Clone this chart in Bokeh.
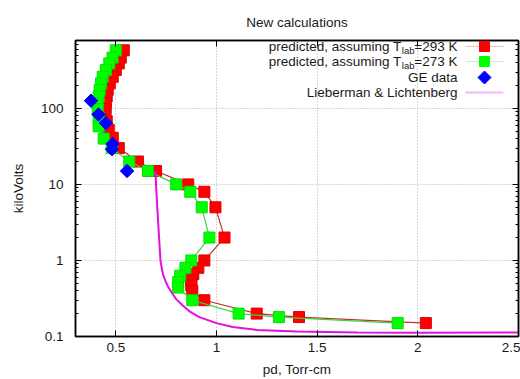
from bokeh.plotting import figure
from bokeh.models import (Range1d, FixedTicker, Label, PolyAnnotation, LinearAxis, LogAxis)
from bokeh.embed import file_html
from bokeh.resources import INLINE

# ---------------- data ----------------
red_pd = [0.54, 0.525, 0.515, 0.50, 0.485, 0.47, 0.46, 0.455, 0.45, 0.45, 0.455, 0.465,
          0.485, 0.515, 0.61, 0.70, 0.86, 0.94, 0.995, 1.04, 0.94, 0.91, 0.885, 0.875,
          0.875, 0.88, 0.94, 1.20, 1.41, 2.04]
red_kv = [580, 465, 390, 320, 260, 213, 175, 143, 117, 98, 68, 52,
          41, 30, 20, 15, 10, 8, 5, 2, 1, 0.8, 0.66, 0.55,
          0.47, 0.4, 0.3, 0.2, 0.18, 0.15]

green_pd = [0.50, 0.484, 0.468, 0.451, 0.435, 0.427, 0.42, 0.415, 0.41, 0.41, 0.415, 0.415,
            0.44, 0.48, 0.567, 0.66, 0.80, 0.87, 0.927, 0.965, 0.875, 0.846, 0.82, 0.81,
            0.81, 0.88, 1.11, 1.31, 1.90]
green_kv = [580, 465, 390, 320, 260, 213, 175, 143, 117, 98, 75, 58,
            40, 30, 20, 15, 10, 8, 5, 2, 1, 0.8, 0.63, 0.52,
            0.44, 0.3, 0.2, 0.18, 0.15]

ge_pd = [0.377, 0.414, 0.451, 0.484, 0.481, 0.556]
ge_kv = [126, 83, 64, 34, 29, 15]

ll_pd = [0.697, 0.700, 0.706, 0.715, 0.722, 0.728, 0.735, 0.745, 0.76, 0.78, 0.80, 0.83,
         0.87, 0.915, 1.0, 1.08, 1.2, 1.4, 1.7, 2.0, 2.5]
ll_kv = [15, 10, 5, 2, 1, 0.8, 0.65, 0.55, 0.45, 0.37, 0.31, 0.26,
         0.21, 0.18, 0.15, 0.133, 0.122, 0.116, 0.113, 0.112, 0.113]

x_ticks = [0.5, 1, 1.5, 2, 2.5]
x_tick_labels = ["0.5", "1", "1.5", "2", "2.5"]
y_ticks = [0.1, 1, 10, 100]
y_tick_labels = ["0.1", "1", "10", "100"]

title_text = "New calculations"
x_label = "pd, Torr-cm"
y_label = "kiloVolts"

FONT = "Liberation Sans"
FS = "13.5px"
TXT = "#1a1a1a"

p = figure(width=520, height=379, y_axis_type="log",
           x_range=Range1d(0.3, 2.5), y_range=Range1d(0.1, 780),
           output_backend="svg", toolbar_location=None,
           min_border_left=75, min_border_right=2, min_border_top=40, min_border_bottom=42,
           title=title_text)
p.background_fill_color = "white"
p.border_fill_color = "white"
p.outline_line_color = "black"
p.outline_line_width = 1.5

p.title.align = "center"
p.title.text_font = FONT
p.title.text_font_size = FS
p.title.text_font_style = "normal"
p.title.text_color = TXT
p.title.standoff = 21

minor_y = [k * 10.0 ** e for e in range(-1, 3) for k in range(2, 10)]
xt = FixedTicker(ticks=x_ticks, minor_ticks=[])
yt = FixedTicker(ticks=y_ticks, minor_ticks=minor_y)

xo = {float(t): s for t, s in zip(x_ticks, x_tick_labels)}
yo = {float(t): s for t, s in zip(y_ticks, y_tick_labels)}

xa = p.xaxis[0]
ya = p.yaxis[0]
xa.ticker = xt
ya.ticker = yt
xa.major_label_overrides = xo
ya.major_label_overrides = yo
xa.axis_label = x_label
ya.axis_label = y_label
xa.major_label_standoff = 6
xa.axis_label_standoff = 7
ya.major_label_standoff = 12
ya.axis_label_standoff = 12

# mirrored tick marks (no labels) on top and right
top_ax = LinearAxis(ticker=xt, major_label_overrides={float(t): "" for t in x_ticks},
                    major_label_text_color=None, major_label_standoff=0)
right_ax = LogAxis(ticker=yt, major_label_overrides={float(t): "" for t in y_ticks},
                   major_label_text_color=None, major_label_standoff=0)
p.add_layout(top_ax, "above")
p.add_layout(right_ax, "right")

for ax in [xa, ya, top_ax, right_ax]:
    ax.major_tick_in = 6
    ax.major_tick_out = 0
    ax.minor_tick_in = 3
    ax.minor_tick_out = 0
    ax.axis_line_color = "black"
    ax.axis_line_width = 1.5
    ax.major_tick_line_color = "black"
    ax.minor_tick_line_color = "black"
    ax.major_label_text_font = FONT
    ax.major_label_text_font_size = FS
    ax.axis_label_text_font = FONT
    ax.axis_label_text_font_style = "normal"
    ax.axis_label_text_font_size = FS
    ax.axis_label_text_color = TXT
for ax in [xa, ya]:
    ax.major_label_text_color = TXT

p.xgrid.ticker = xt
p.ygrid.ticker = yt
for g in [p.xgrid[0], p.ygrid[0]]:
    g.grid_line_color = "#b0b0b0"
    g.grid_line_dash = "1 2"
    g.grid_line_width = 1

RED_L, RED_M = "#c03030", "#ff0000"
GRN_L, GRN_M = "#40d040", "#00ff00"
BLUE = "#0000ff"
MAG = "#e010e0"

p.line(red_pd, red_kv, line_color=RED_L, line_width=1.2)
p.scatter(red_pd, red_kv, marker="square", size=11, fill_color=RED_M, line_color="#e00000")
p.line(green_pd, green_kv, line_color=GRN_L, line_width=1.2)
p.scatter(green_pd, green_kv, marker="square", size=11, fill_color=GRN_M, line_color="#00e000")
p.scatter(ge_pd, ge_kv, marker="square", angle=0.7854, size=9.5, fill_color=BLUE, line_color=BLUE)
p.line(ll_pd, ll_kv, line_color=MAG, line_width=2)

# ---------------- legend (gnuplot style: text right, sample at right) ----------------
# screen units here are relative to the plot frame (x from left, y from bottom)
TX = 382
SX0, SX1 = 390, 428
SC = (SX0 + SX1) / 2
rows = [290, 275, 259, 244]


def hline(y, color, w):
    p.add_layout(PolyAnnotation(xs=[SX0, SX1, SX1, SX0], ys=[y, y, y, y], xs_units="screen", ys_units="screen",
                                line_color=color, line_width=w, fill_alpha=0))


def square(y, color, h):
    p.add_layout(PolyAnnotation(xs=[SC - h, SC + h, SC + h, SC - h], ys=[y - h, y - h, y + h, y + h],
                                xs_units="screen", ys_units="screen",
                                line_color=color, fill_color=color, fill_alpha=1, line_alpha=1))


def diamond(y, color, h):
    p.add_layout(PolyAnnotation(xs=[SC, SC + h, SC, SC - h], ys=[y - h, y, y + h, y],
                                xs_units="screen", ys_units="screen",
                                line_color=color, fill_color=color, fill_alpha=1, line_alpha=1))


def text(x, y, s, size=FS, align="right", base="middle"):
    p.add_layout(Label(x=x, y=y, x_units="screen", y_units="screen", text=s,
                       text_font=FONT, text_font_size=size, text_align=align,
                       text_baseline=base, text_color=TXT))


hline(rows[0], RED_L, 1.2)
square(rows[0], RED_M, 5)
hline(rows[1], GRN_L, 1.2)
square(rows[1], GRN_M, 5)
diamond(rows[2], BLUE, 6.5)
hline(rows[3], MAG, 2)

for r, temp in [(rows[0], "=293 K"), (rows[1], "=273 K")]:
    text(TX, r, temp)
    text(TX - 43, r - 4, "lab", size="9.5px")
    text(TX - 56, r, "predicted, assuming T")
text(TX, rows[2], "GE data")
text(TX, rows[3], "Lieberman & Lichtenberg")

open("out.html", "w").write(file_html(p, INLINE))
